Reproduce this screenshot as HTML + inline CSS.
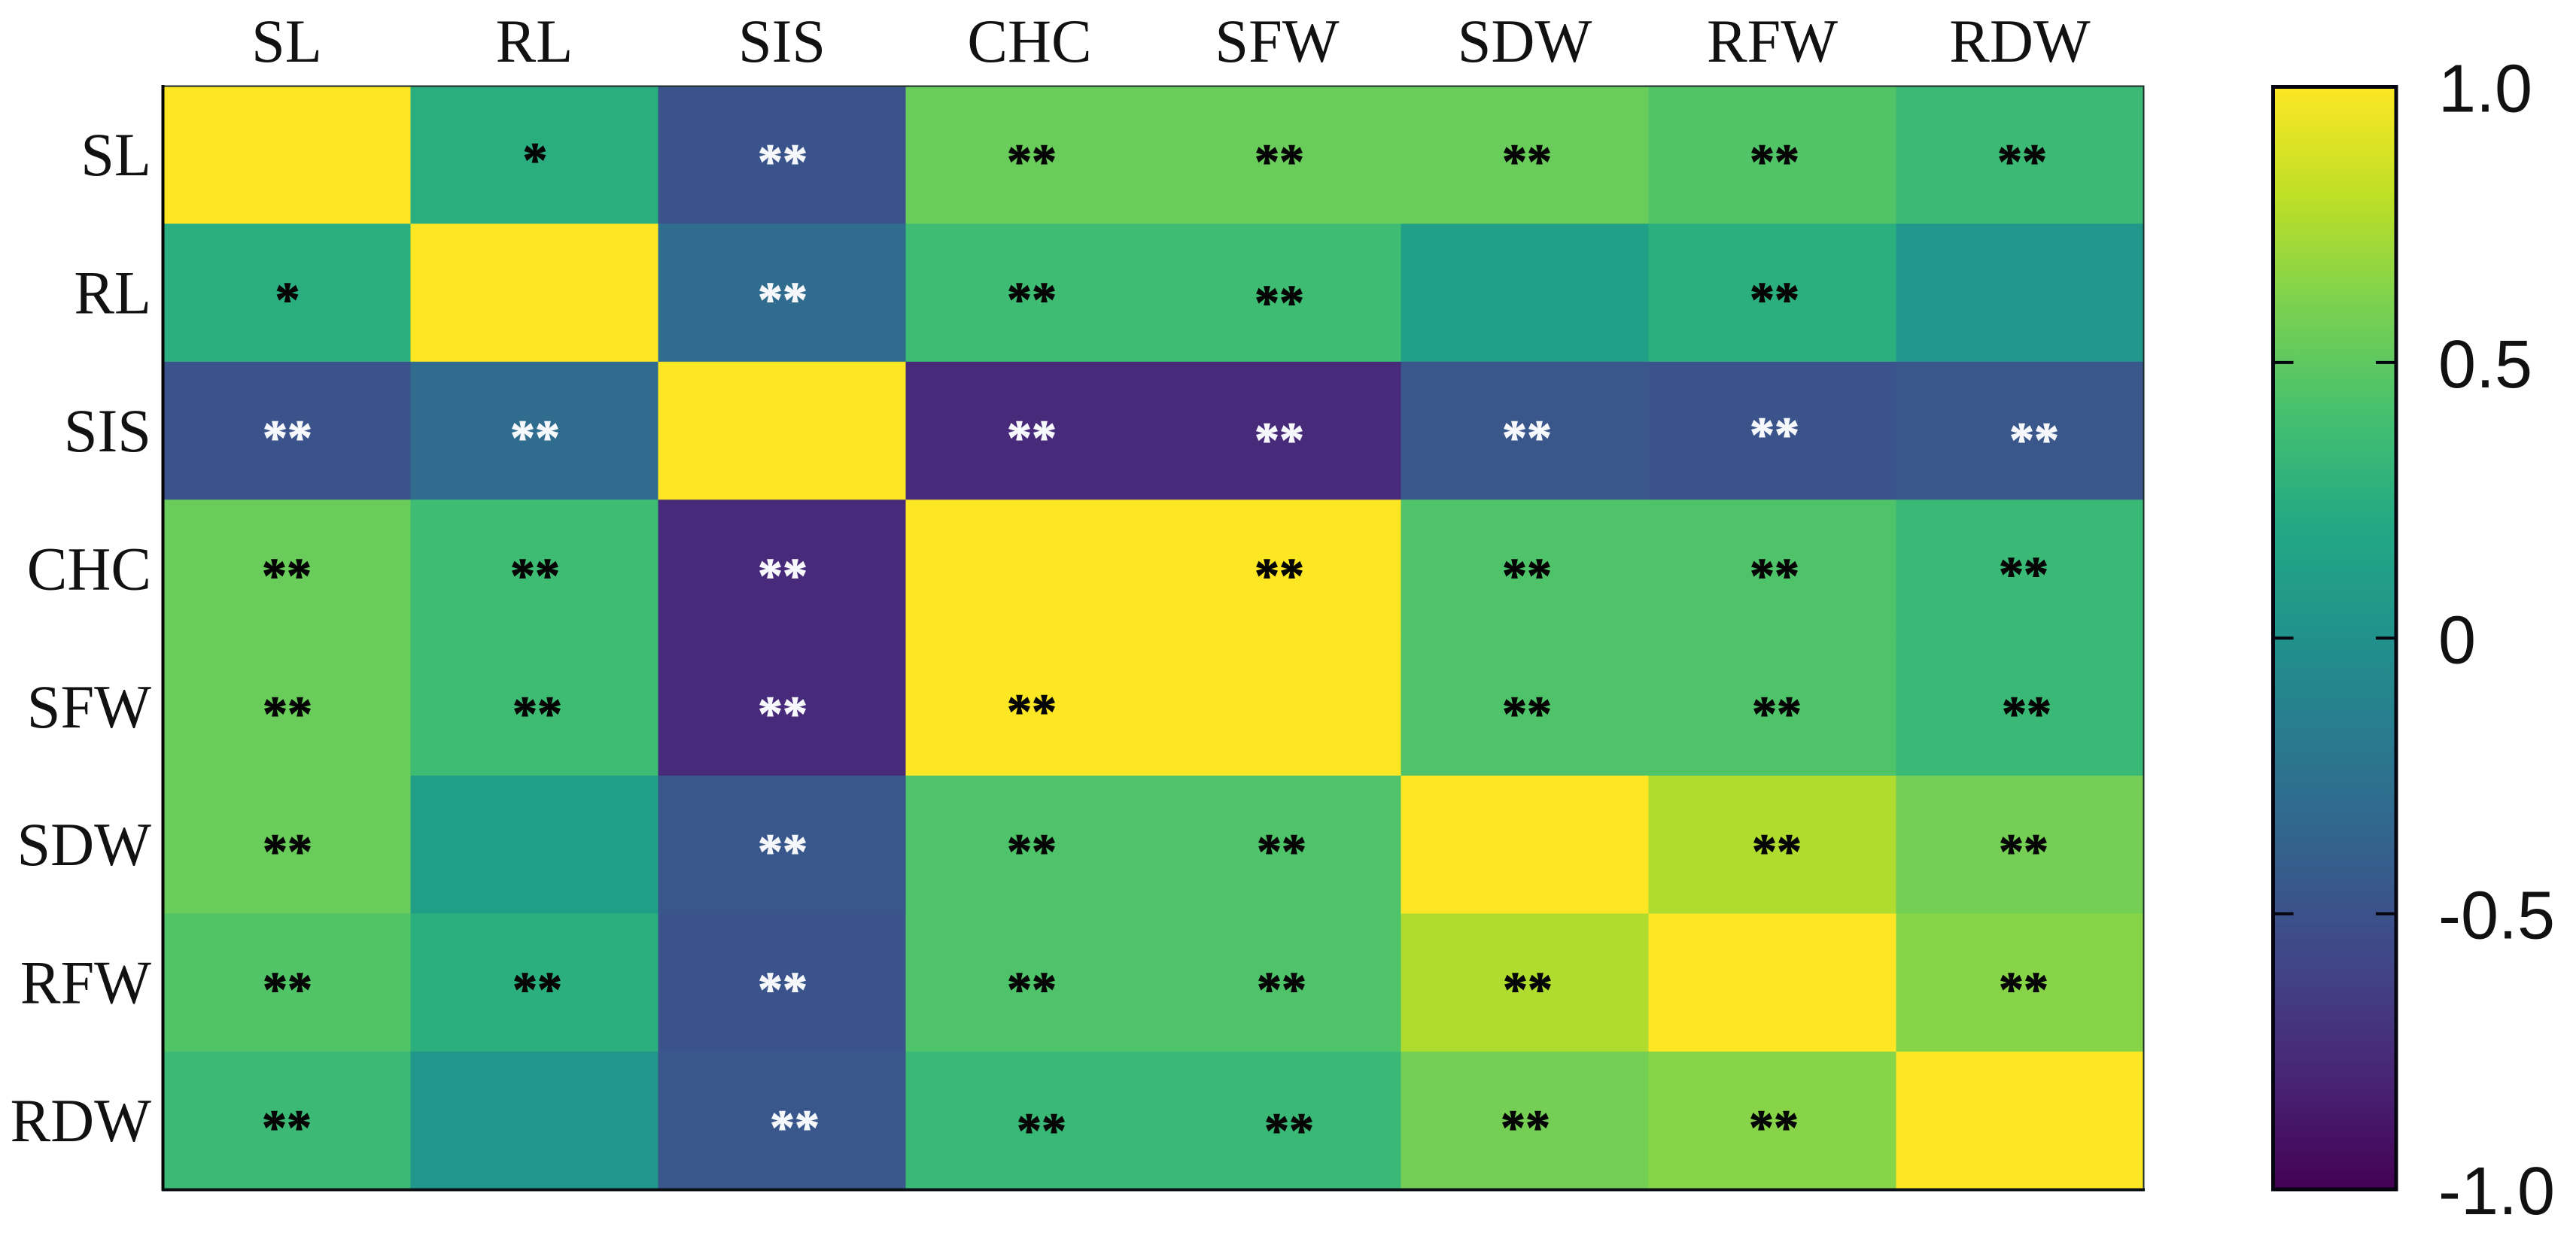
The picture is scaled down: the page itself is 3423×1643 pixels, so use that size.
<!DOCTYPE html>
<html lang="en">
<head>
<meta charset="utf-8">
<title>Correlation heatmap</title>
<style>
html,body{margin:0;padding:0;background:#fff;}
#chart{display:block;width:3423px;height:1643px;}
</style>
</head>
<body>
<svg id="chart" xmlns="http://www.w3.org/2000/svg" width="3423" height="1643" viewBox="0 0 3423 1643">
  <defs>
    <linearGradient id="cbar-gradient" x1="0" y1="1" x2="0" y2="0"></linearGradient>
  </defs>
  <rect width="3423" height="1643" fill="#ffffff"/>
  <g id="cells"></g>
  <rect x="216.5" y="114.5" width="2632" height="1466.5" fill="none" stroke="#1c2a2a" stroke-width="2"/>
  <line x1="216.5" y1="113" x2="216.5" y2="1583" stroke="#050505" stroke-width="4"/>
  <line x1="215" y1="1581.5" x2="2850" y2="1581.5" stroke="#0a0f14" stroke-width="4"/>
  <g id="stars"></g>
  <g id="col-labels"></g>
  <g id="row-labels"></g>
  <rect id="cbar-fill" fill="url(#cbar-gradient)"/>
  <g id="cbar-ticks"></g>
  <rect id="cbar-frame" fill="none" stroke="#05050f" stroke-width="5"/>
  <g id="cbar-labels"></g>
</svg>
<script>
// Chart data
const variables = ["SL", "RL", "SIS", "CHC", "SFW", "SDW", "RFW", "RDW"];
const corrSL  = [1.00, 0.25, -0.48, 0.54, 0.54, 0.54, 0.45, 0.35];
const corrRL  = [0.25, 1.00, -0.30, 0.37, 0.37, 0.13, 0.26, 0.04];
const corrSIS = [-0.48, -0.30, 1.00, -0.76, -0.76, -0.46, -0.48, -0.46];
const corrCHC = [0.54, 0.37, -0.76, 1.00, 1.00, 0.44, 0.44, 0.34];
const corrSFW = [0.54, 0.37, -0.76, 1.00, 1.00, 0.44, 0.44, 0.34];
const corrSDW = [0.54, 0.13, -0.46, 0.44, 0.44, 1.00, 0.76, 0.58];
const corrRFW = [0.45, 0.26, -0.48, 0.44, 0.44, 0.76, 1.00, 0.64];
const corrRDW = [0.35, 0.04, -0.46, 0.34, 0.34, 0.58, 0.64, 1.00];
const starsSL  = ["", "*", "**", "**", "**", "**", "**", "**"];
const starsRL  = ["*", "", "**", "**", "**", "", "**", ""];
const starsSIS = ["**", "**", "", "**", "**", "**", "**", "**"];
const starsCHC = ["**", "**", "**", "", "**", "**", "**", "**"];
const starsSFW = ["**", "**", "**", "**", "", "**", "**", "**"];
const starsSDW = ["**", "", "**", "**", "**", "", "**", "**"];
const starsRFW = ["**", "**", "**", "**", "**", "**", "", "**"];
const starsRDW = ["**", "", "**", "**", "**", "**", "**", ""];
const colorbarTicks = [1.0, 0.5, 0, -0.5, -1.0];
const colorbarTickLabels = ["1.0", "0.5", "0", "-0.5", "-1.0"];
const viridisStops = ["#440154","#482475","#414487","#355f8d","#2a788e","#21918c","#22a884","#44bf70","#7ad151","#bddf26","#fde725"];

const corrMatrix = [corrSL, corrRL, corrSIS, corrCHC, corrSFW, corrSDW, corrRFW, corrRDW];
const starMatrix = [starsSL, starsRL, starsSIS, starsCHC, starsSFW, starsSDW, starsRFW, starsRDW];

// Hand placement quirks of individual star markers in the source figure (dx, dy from default)
const starNudge = {
  "0,1":[0,-2], "1,4":[0,4], "2,4":[0,3], "2,6":[0,-4], "2,7":[16,3],
  "3,0":[-1,0], "3,7":[2,-2], "4,3":[0,-3], "4,6":[3,0], "4,7":[6,0],
  "5,4":[3,0], "5,6":[3,0], "5,7":[2,0], "6,4":[3,0], "6,5":[1,0], "6,7":[2,0],
  "7,0":[-1,0], "7,2":[16,0], "7,3":[13,4], "7,4":[13,4], "7,5":[-2,0], "7,6":[-1,0],
  "3,1":[0,0], "4,1":[3,0], "6,1":[3,0]
};

// Axis functions
const plotLeft = 216.5, plotTop = 114, cellW = 329, cellH = 183.4;
const xAt = i => plotLeft + i * cellW;
const yAt = i => plotTop + i * cellH;
const cbLeft = 3020.5, cbRight = 3184, cbTop = 115.5, cbBottom = 1581;
const cbY = v => cbTop + (1 - v) / 2 * (cbBottom - cbTop);

function hexToRgb(h){ return [1,3,5].map(k => parseInt(h.substr(k,2),16)); }
function colorFor(v){
  const t = Math.max(0, Math.min(1, (v + 1) / 2)) * (viridisStops.length - 1);
  const i = Math.min(Math.floor(t), viridisStops.length - 2);
  const a = hexToRgb(viridisStops[i]), b = hexToRgb(viridisStops[i + 1]);
  const f = t - i;
  return "rgb(" + a.map((c, k) => Math.round(c + (b[k] - c) * f)).join(",") + ")";
}
const NS = "http://www.w3.org/2000/svg";
function make(tag, attrs, parent, text){
  const el = document.createElementNS(NS, tag);
  for (const k in attrs) el.setAttribute(k, attrs[k]);
  if (text !== undefined) el.textContent = text;
  parent.appendChild(el);
  return el;
}

// Cells
const cellsG = document.getElementById("cells");
corrMatrix.forEach((row, r) => row.forEach((v, c) => {
  const cell = make("rect", {x: xAt(c), y: yAt(r), width: cellW + 0.5, height: cellH + 0.5, fill: colorFor(v)}, cellsG);
  
  
}));

// Significance stars
const starsG = document.getElementById("stars");
const starSize = 66;
starMatrix.forEach((row, r) => row.forEach((s, c) => {
  if (!s) return;
  const n = starNudge[r + "," + c] || [0, 0];
  const cx = xAt(c) + cellW / 2 + (c >= 3 ? 3 : 1) + n[0];
  const cy = yAt(r) + cellH / 2 + n[1];
  const ink = corrMatrix[r][c] < -0.2 ? "#f6f8fb" : "#050505";
  const star = make("text", {
    x: cx, y: cy + starSize * 0.47, "text-anchor": "middle",
    "font-family": '"Liberation Serif", serif', "font-weight": "bold", "font-size": starSize,
    fill: ink, stroke: ink, "stroke-width": 1
  }, starsG, s);
  
  
}));

// Column and row labels
const colG = document.getElementById("col-labels");
variables.forEach((name, i) => {
  const label = make("text", {
    transform: "translate(" + (xAt(i) + cellW / 2) + ",82) scale(0.98,1)", "text-anchor": "middle",
    "font-family": '"Liberation Serif", serif', "font-size": 82, fill: "#111111"
  }, colG, name);
  
  
});
const rowG = document.getElementById("row-labels");
variables.forEach((name, i) => {
  const label = make("text", {
    transform: "translate(201," + (yAt(i) + cellH / 2 + 27.5) + ") scale(0.98,1)", "text-anchor": "end",
    "font-family": '"Liberation Serif", serif', "font-size": 82, fill: "#111111"
  }, rowG, name);
  
  
});

// Colorbar
const grad = document.getElementById("cbar-gradient");
viridisStops.forEach((col, i) => {
  make("stop", {offset: i / (viridisStops.length - 1), "stop-color": col}, grad);
});
const cbFill = document.getElementById("cbar-fill");
const cbFrame = document.getElementById("cbar-frame");
[cbFill, cbFrame].forEach(el => {
  el.setAttribute("x", cbLeft);
  el.setAttribute("y", cbTop);
  el.setAttribute("width", cbRight - cbLeft);
  el.setAttribute("height", cbBottom - cbTop);
});
const tickG = document.getElementById("cbar-ticks");
const labG = document.getElementById("cbar-labels");
colorbarTicks.forEach((v, i) => {
  if (v < 1 && v > -1) {
    const left = make("line", {x1: cbLeft, x2: cbLeft + 27, y1: cbY(v), y2: cbY(v), stroke: "#05050f", "stroke-width": 4}, tickG);
    
    
    const right = make("line", {x1: cbRight - 27, x2: cbRight, y1: cbY(v), y2: cbY(v), stroke: "#05050f", "stroke-width": 4}, tickG);
    
    
  }
  const lab = make("text", {
    x: 3240, y: cbY(v) + 33,
    "font-family": '"Liberation Sans", sans-serif', "font-size": 90, fill: "#111111"
  }, labG, colorbarTickLabels[i]);
  
  
});
</script>
</body>
</html>
